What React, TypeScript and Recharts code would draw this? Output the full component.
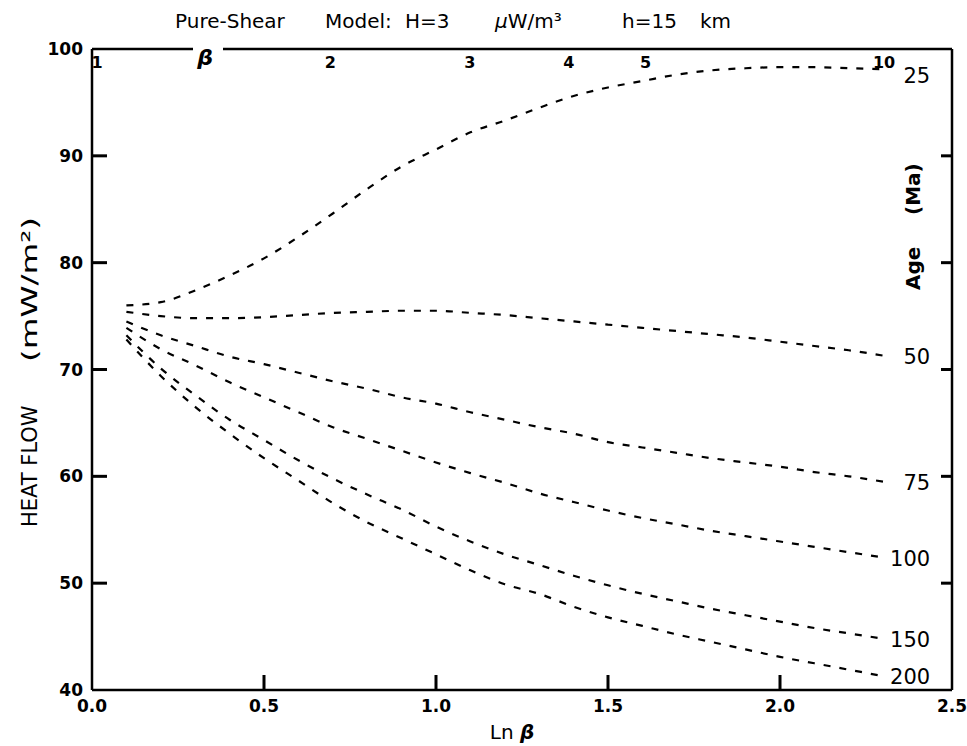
import React from 'react';
import { LineChart, Line, XAxis, YAxis, ReferenceDot } from 'recharts';

const lnBeta = [0.1, 0.2, 0.3, 0.4, 0.5, 0.6, 0.7, 0.8, 0.9, 1.0, 1.1, 1.2, 1.3, 1.4, 1.5, 1.6, 1.7, 1.8, 1.9, 2.0, 2.1, 2.2, 2.3];
const age25 = [76.0, 76.3, 77.4, 78.8, 80.4, 82.4, 84.6, 86.9, 89.0, 90.6, 92.2, 93.3, 94.5, 95.6, 96.4, 97.0, 97.6, 98.0, 98.2, 98.3, 98.3, 98.2, 98.1];
const age50 = [75.4, 75.0, 74.8, 74.8, 74.9, 75.1, 75.3, 75.4, 75.5, 75.5, 75.3, 75.1, 74.8, 74.5, 74.2, 73.9, 73.6, 73.3, 73.0, 72.6, 72.2, 71.8, 71.3];
const age75 = [74.5, 73.2, 72.2, 71.2, 70.5, 69.7, 68.9, 68.2, 67.4, 66.8, 66.0, 65.3, 64.6, 64.0, 63.2, 62.7, 62.2, 61.7, 61.3, 60.9, 60.4, 60.0, 59.5];
const age100 = [73.9, 71.9, 70.4, 68.8, 67.4, 66.0, 64.6, 63.5, 62.4, 61.3, 60.3, 59.4, 58.4, 57.6, 56.8, 56.1, 55.5, 54.9, 54.4, 53.9, 53.4, 52.9, 52.4];
const age150 = [73.2, 70.1, 67.6, 65.3, 63.4, 61.5, 59.8, 58.3, 56.9, 55.3, 53.9, 52.7, 51.7, 50.7, 49.8, 49.0, 48.3, 47.6, 47.0, 46.4, 45.8, 45.3, 44.8];
const age200 = [72.8, 69.4, 66.5, 64.0, 61.7, 59.6, 57.5, 55.7, 54.2, 52.7, 51.2, 49.9, 49.0, 47.8, 46.8, 46.0, 45.2, 44.5, 43.8, 43.1, 42.5, 41.9, 41.3];

const ageLabels = ['25', '50', '75', '100', '150', '200'];
const yTicks = [40, 50, 60, 70, 80, 90, 100];
const yInnerTicks = [50, 60, 70, 80, 90];
const xTicks = [0, 0.5, 1.0, 1.5, 2.0, 2.5];
const xInnerTicks = [0.5, 1.0, 1.5, 2.0];
const betaTicks = [1, 2, 3, 4, 5, 10];

const X_MIN = 0;
const X_MAX = 2.5;
const Y_MIN = 40;
const Y_MAX = 100;

const seriesValues = [age25, age50, age75, age100, age150, age200];
const data = lnBeta.map((x, i) => {
  const row: any = { x };
  seriesValues.forEach((s, k) => {
    row['a' + ageLabels[k]] = s[i];
  });
  return row;
});

const FONT = 'DejaVu Sans';
const lastIndex = lnBeta.length - 1;
const MARGIN = 9;

const endLabel = (text: string, dy: number) => (props: any) => {
  const x = props.x ?? props.viewBox?.x;
  const y = props.y ?? props.viewBox?.y;
  if (props.index !== lastIndex || x == null || y == null) return <g />;
  return (
    <text x={x + 47} y={y + dy} textAnchor="end" fontSize={21} fontFamily={FONT} fill="#000">
      {text}
    </text>
  );
};

const TopTick = (props: any) => {
  const { x, y, payload, index } = props;
  const label = String(Math.round(Math.exp(payload.value)));
  return (
    <text
      x={index === 0 ? x + 5 : x}
      y={y + 19}
      textAnchor="middle"
      fontSize={16}
      fontWeight="bold"
      fontFamily={FONT}
      fill="#000"
    >
      {label}
    </text>
  );
};

const LeftTick = (props: any) => {
  const { x, y, payload } = props;
  return (
    <text x={x} y={y + 6} textAnchor="end" fontSize={17} fontWeight="bold" fontFamily={FONT} fill="#000">
      {payload.value}
    </text>
  );
};

const BottomTick = (props: any) => {
  const { x, y, payload } = props;
  return (
    <text x={x} y={y + 13} textAnchor="middle" fontSize={17} fontWeight="bold" fontFamily={FONT} fill="#000">
      {Number(payload.value).toFixed(1)}
    </text>
  );
};

const markShape = (dx: number, dy: number) => (p: any) => {
  const cx = Number(p.cx);
  const cy = Number(p.cy);
  if (!isFinite(cx) || !isFinite(cy)) return <g />;
  return (
    <rect
      x={Math.min(cx, cx + dx) - (dx === 0 ? 1.5 : 0)}
      y={Math.min(cy, cy + dy) - (dy === 0 ? 1.5 : 0)}
      width={dx === 0 ? 3 : Math.abs(dx)}
      height={dy === 0 ? 3 : Math.abs(dy)}
      fill="#000"
      stroke="none"
    />
  );
};

const axisLineStyle = { stroke: '#000', strokeWidth: 2.5 };

export default function App() {
  return (
    <div style={{ position: 'absolute', left: 8, top: 8, width: 959, height: 738, background: '#fff' }}>
      <LineChart width={959} height={738} data={data} margin={{ top: 41, right: 15, bottom: 0, left: 0 }}>
        <XAxis
          xAxisId="b"
          dataKey="x"
          type="number"
          domain={[X_MIN, X_MAX]}
          ticks={xTicks}
          interval={0}
          height={56}
          tickSize={0}
          tickMargin={MARGIN}
          tickLine={false}
          axisLine={axisLineStyle}
          tick={<BottomTick />}
        />
        <XAxis
          xAxisId="t"
          dataKey="x"
          type="number"
          domain={[X_MIN, X_MAX]}
          ticks={betaTicks.map((b) => Math.log(b))}
          interval={0}
          orientation="top"
          mirror
          height={20}
          tickSize={0}
          tickMargin={0}
          tickLine={false}
          axisLine={axisLineStyle}
          tick={<TopTick />}
        />
        <YAxis
          yAxisId="l"
          type="number"
          domain={[Y_MIN, Y_MAX]}
          ticks={yTicks}
          interval={0}
          width={84}
          tickSize={0}
          tickMargin={MARGIN}
          tickLine={false}
          axisLine={axisLineStyle}
          tick={<LeftTick />}
        />
        <YAxis
          yAxisId="r"
          type="number"
          domain={[Y_MIN, Y_MAX]}
          ticks={yInnerTicks}
          interval={0}
          orientation="right"
          mirror
          width={10}
          tick={false}
          tickLine={false}
          axisLine={axisLineStyle}
        />
        {ageLabels.map((lab, k) => (
          <Line
            key={lab}
            xAxisId="b"
            yAxisId="l"
            dataKey={'a' + lab}
            type="monotone"
            stroke="#000"
            strokeWidth={2.2}
            strokeDasharray="7 9"
            dot={false}
            activeDot={false}
            isAnimationActive={false}
            label={endLabel(lab, k === 0 ? 14 : 8)}
          />
        ))}
        {yInnerTicks.map((v) => (
          <ReferenceDot
            key={'lt' + v}
            xAxisId="b"
            yAxisId="l"
            x={X_MIN}
            y={v}
            r={2}
            fill="#000"
            stroke="#000"
            ifOverflow="visible"
            shape={markShape(15, 0)}
          />
        ))}
        {yInnerTicks.map((v) => (
          <ReferenceDot
            key={'rt' + v}
            xAxisId="b"
            yAxisId="l"
            x={X_MAX}
            y={v}
            r={2}
            fill="#000"
            stroke="#000"
            ifOverflow="visible"
            shape={markShape(-11, 0)}
          />
        ))}
        {xInnerTicks.map((v) => (
          <ReferenceDot
            key={'bt' + v}
            xAxisId="b"
            yAxisId="l"
            x={v}
            y={Y_MIN}
            r={2}
            fill="#000"
            stroke="#000"
            ifOverflow="visible"
            shape={markShape(0, -15)}
          />
        ))}
      </LineChart>
      <svg
        width={959}
        height={738}
        style={{ position: 'absolute', left: 0, top: 0, pointerEvents: 'none' }}
        fontFamily={FONT}
      >
        <text y={20} fontSize={20} fill="#000" xmlSpace="preserve">
          <tspan x={167}>Pure-Shear </tspan>
          <tspan x={317}>Model: </tspan>
          <tspan x={397}>H=3 </tspan>
          <tspan x={487}>
            <tspan fontStyle="italic">μ</tspan>W/m³{' '}
          </tspan>
          <tspan x={614}>h=15 </tspan>
          <tspan x={692}>km</tspan>
        </text>
        <text transform="translate(29, 519) rotate(-90)" fontSize={21} fill="#000">
          HEAT FLOW
        </text>
        <text
          transform="translate(29, 354) rotate(-90)"
          fontSize={21}
          fill="#000"
          textLength={145}
          lengthAdjust="spacingAndGlyphs"
        >
          (mW/m²)
        </text>
        <text transform="translate(912, 282) rotate(-90)" fontSize={20} fontWeight="bold" fill="#000" xmlSpace="preserve">
          <tspan x={0}>Age </tspan>
          <tspan x={75}>(Ma)</tspan>
        </text>
        <text x={504} y={731} textAnchor="middle" fontSize={20} fill="#000">
          Ln <tspan fontStyle="italic" fontWeight="bold">β</tspan>
        </text>
        <rect x={185} y={36} width={30} height={10} fill="#fff" />
        <text x={197} y={57} textAnchor="middle" fontSize={22} fontWeight="bold" fontStyle="italic" fill="#000">
          β
        </text>
      </svg>
    </div>
  );
}
